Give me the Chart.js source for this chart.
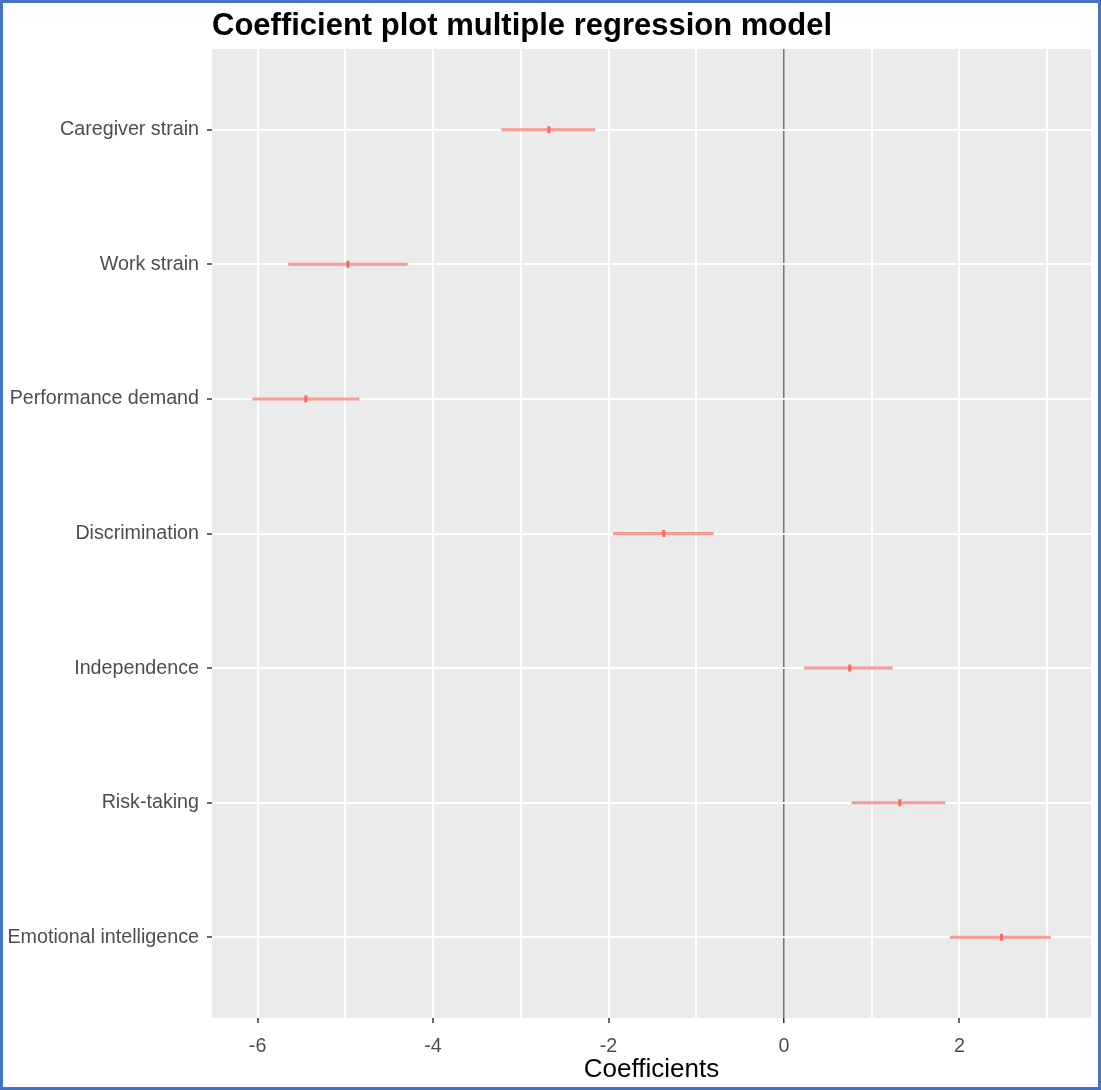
<!DOCTYPE html>
<html>
<head>
<meta charset="utf-8">
<title>Coefficient plot multiple regression model</title>
<script src="https://cdn.jsdelivr.net/npm/chart.js@4.4.1/dist/chart.umd.min.js"></script>
<style>
  html, body { margin: 0; padding: 0; background: #ffffff; }
  canvas { display: block; }
</style>
</head>
<body>
<canvas id="coefPlot" width="1101" height="1090"></canvas>
<script>
// Predictors, top to bottom
const predictors = [
  'Caregiver strain',
  'Work strain',
  'Performance demand',
  'Discrimination',
  'Independence',
  'Risk-taking',
  'Emotional intelligence'
];
// Point estimates and interval bounds for each predictor
const estimates = [-2.68, -4.97, -5.45, -1.37, 0.75, 1.32, 2.48];
const lowerBounds = [-3.22, -5.65, -6.06, -1.95, 0.23, 0.77, 1.89];
const upperBounds = [-2.15, -4.29, -4.84, -0.80, 1.24, 1.84, 3.04];
// Labelled ticks on the coefficient axis
const xTickLabels = ['-6', '-4', '-2', '0', '2'];
// Reference line
const referenceValue = 0;

Chart.defaults.font.family = '"Liberation Sans", Arial, Helvetica, sans-serif';

const PANEL_BG = '#EBEBEB';
const RANGE_COLOR = 'rgba(248, 118, 109, 0.72)';
const POINT_COLOR = '#F26B63';

// One short segment per predictor for its interval
const intervalSets = predictors.map((name, i) => ({
  label: name,
  data: [
    { x: lowerBounds[i], y: i + 1 },
    { x: upperBounds[i], y: i + 1 }
  ],
  showLine: true,
  borderColor: RANGE_COLOR,
  borderWidth: 3,
  borderCapStyle: 'butt',
  pointRadius: 0,
  order: 2
}));

const estimateSet = {
  label: 'Estimate',
  data: estimates.map((v, i) => ({ x: v, y: i + 1 })),
  showLine: false,
  pointStyle: 'line',
  rotation: 90,
  pointRadius: 3.5,
  borderWidth: 3,
  borderColor: POINT_COLOR,
  backgroundColor: POINT_COLOR,
  order: 1
};

// Panel background, plot title and frame
const decorations = {
  id: 'decorations',
  beforeDraw(chart) {
    const { ctx, chartArea: a } = chart;
    ctx.save();
    ctx.fillStyle = '#ffffff';
    ctx.fillRect(0, 0, chart.width, chart.height);
    ctx.fillStyle = PANEL_BG;
    ctx.fillRect(a.left, a.top, a.right - a.left, a.bottom - a.top);
    ctx.restore();
  },
  afterDraw(chart) {
    const { ctx, chartArea: a } = chart;
    ctx.save();
    ctx.fillStyle = '#000000';
    ctx.font = 'bold 31px "Liberation Sans", Arial, sans-serif';
    ctx.textAlign = 'left';
    ctx.textBaseline = 'alphabetic';
    ctx.fillText('Coefficient plot multiple regression model', a.left, 35);
    ctx.strokeStyle = '#4472C4';
    ctx.lineWidth = 3;
    ctx.strokeRect(1.5, 1.5, chart.width - 3, chart.height - 3);
    ctx.restore();
  }
};

new Chart(document.getElementById('coefPlot'), {
  type: 'scatter',
  data: { datasets: [...intervalSets, estimateSet] },
  options: {
    responsive: false,
    animation: false,
    devicePixelRatio: 1,
    layout: { padding: { top: 49, right: 10, bottom: 0, left: 0 } },
    plugins: {
      legend: { display: false },
      tooltip: { enabled: false }
    },
    scales: {
      x: {
        type: 'linear',
        min: -6.52,
        max: 3.5,
        border: { display: false },
        grid: {
          color: ctx => (ctx.tick && ctx.tick.value === referenceValue) ? '#747474' : '#ffffff',
          lineWidth: ctx => (ctx.tick && ctx.tick.value === referenceValue) ? 1.5 : 2,
          tickColor: ctx => (ctx.tick && xTickLabels.includes(String(ctx.tick.value))) ? '#333333' : 'rgba(0,0,0,0)',
          tickLength: 5,
          tickWidth: 1.5
        },
        ticks: {
          stepSize: 1,
          includeBounds: false,
          autoSkip: false,
          maxRotation: 0,
          color: '#4d4d4d',
          font: { size: 19.7 },
          padding: 12,
          callback: v => xTickLabels.includes(String(v)) ? String(v) : ''
        },
        title: {
          display: true,
          text: 'Coefficients',
          color: '#000000',
          font: { size: 26 },
          padding: { top: 0, bottom: 5 }
        },
        afterFit: s => { s.height = 72; }
      },
      y: {
        type: 'linear',
        min: 0.4,
        max: 7.6,
        reverse: true,
        border: { display: false },
        grid: {
          color: '#ffffff',
          lineWidth: 2,
          tickColor: '#333333',
          tickLength: 5,
          tickWidth: 1.5
        },
        afterBuildTicks: s => { s.ticks = predictors.map((_, i) => ({ value: i + 1 })); },
        ticks: {
          autoSkip: false,
          color: '#4d4d4d',
          font: { size: 19.7 },
          padding: 8,
          callback: v => predictors[v - 1] ?? ''
        },
        afterFit: s => { s.width = 212; }
      }
    }
  },
  plugins: [decorations]
});
</script>
</body>
</html>
